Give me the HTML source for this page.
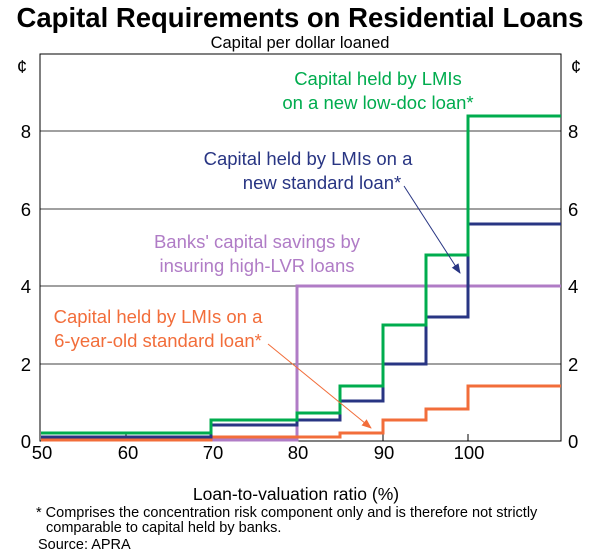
<!DOCTYPE html>
<html><head><meta charset="utf-8"><style>
html,body{margin:0;padding:0;background:#fff;}
svg{display:block;font-family:"Liberation Sans",Arial,sans-serif;}
</style></head><body>
<svg width="600" height="554" viewBox="0 0 600 554" xmlns="http://www.w3.org/2000/svg">
<defs>
<marker id="an" markerWidth="10" markerHeight="10" refX="9" refY="5" orient="auto" markerUnits="userSpaceOnUse"><path d="M0,1 L10,5 L0,9 z" fill="#283583"/></marker>
<marker id="ao" markerWidth="10" markerHeight="10" refX="9" refY="5" orient="auto" markerUnits="userSpaceOnUse"><path d="M0,1 L10,5 L0,9 z" fill="#f26d3a"/></marker>
</defs>
<text x="300" y="27" text-anchor="middle" font-size="27.5" font-weight="bold">Capital Requirements on Residential Loans</text>
<text x="300" y="48" text-anchor="middle" font-size="16.5">Capital per dollar loaned</text>
<g stroke="#000" stroke-width="0.8">
<line x1="40" y1="131" x2="561" y2="131"/>
<line x1="40" y1="209" x2="561" y2="209"/>
<line x1="40" y1="286" x2="561" y2="286"/>
<line x1="40" y1="364" x2="561" y2="364"/>
</g>
<rect x="40" y="54" width="521" height="387" fill="none" stroke="#000" stroke-width="1"/>
<g stroke="#000" stroke-width="1">
<line x1="126" y1="441" x2="126" y2="434"/><line x1="211" y1="441" x2="211" y2="434"/>
<line x1="297" y1="441" x2="297" y2="434"/><line x1="383" y1="441" x2="383" y2="434"/>
<line x1="468" y1="441" x2="468" y2="434"/>
</g>
<g font-size="18.5">
<text x="22" y="73" text-anchor="middle">¢</text><text x="576" y="73" text-anchor="middle">¢</text>
<g text-anchor="end"><text x="31" y="138">8</text><text x="31" y="216">6</text><text x="31" y="293">4</text><text x="31" y="371">2</text><text x="31" y="448">0</text></g>
<g text-anchor="start"><text x="568" y="138">8</text><text x="568" y="216">6</text><text x="568" y="293">4</text><text x="568" y="371">2</text><text x="568" y="448">0</text></g>
<g text-anchor="middle"><text x="42" y="459">50</text><text x="128" y="459">60</text><text x="213" y="459">70</text><text x="298" y="459">80</text><text x="384" y="459">90</text><text x="469" y="459">100</text></g>
<text x="296" y="500" text-anchor="middle" font-size="17.5">Loan-to-valuation ratio (%)</text>
</g>
<g fill="none" stroke-width="3">
<polyline stroke="#b07cc6" points="41,440 297,440 297,286 561,286"/>
<polyline stroke="#f26d3a" points="41,440 211,440 211,437 340,437 340,433 383,433 383,420 426,420 426,409 468,409 468,386 561,386"/>
<polyline stroke="#283583" points="41,437 211,437 211,425 297,425 297,420 340,420 340,401 383,401 383,364 426,364 426,317 468,317 468,224 561,224"/>
<polyline stroke="#00ac4e" points="41,433 211,433 211,420 297,420 297,413 340,413 340,386 383,386 383,325 426,325 426,255 468,255 468,116 561,116"/>
</g>
<line x1="404" y1="186" x2="460" y2="273" stroke="#283583" stroke-width="1" marker-end="url(#an)"/>
<line x1="268" y1="344" x2="371" y2="428" stroke="#f26d3a" stroke-width="1" marker-end="url(#ao)"/>
<g font-size="18.5" text-anchor="middle">
<text x="378" y="85" fill="#00ac4e">Capital held by LMIs</text>
<text x="378" y="109" fill="#00ac4e">on a new low-doc loan*</text>
<text x="308" y="165" fill="#283583">Capital held by LMIs on a</text>
<text x="322" y="189" fill="#283583">new standard loan*</text>
<text x="257" y="248" fill="#b07cc6">Banks' capital savings by</text>
<text x="257" y="272" fill="#b07cc6">insuring high-LVR loans</text>
<text x="158" y="323" fill="#f26d3a">Capital held by LMIs on a</text>
<text x="158" y="347" fill="#f26d3a">6-year-old standard loan*</text>
</g>
<g font-size="14.5">
<text x="36" y="517">* Comprises the concentration risk component only and is therefore not strictly</text>
<text x="46" y="532">comparable to capital held by banks.</text>
<text x="38" y="549">Source: APRA</text>
</g>
</svg>
</body></html>
